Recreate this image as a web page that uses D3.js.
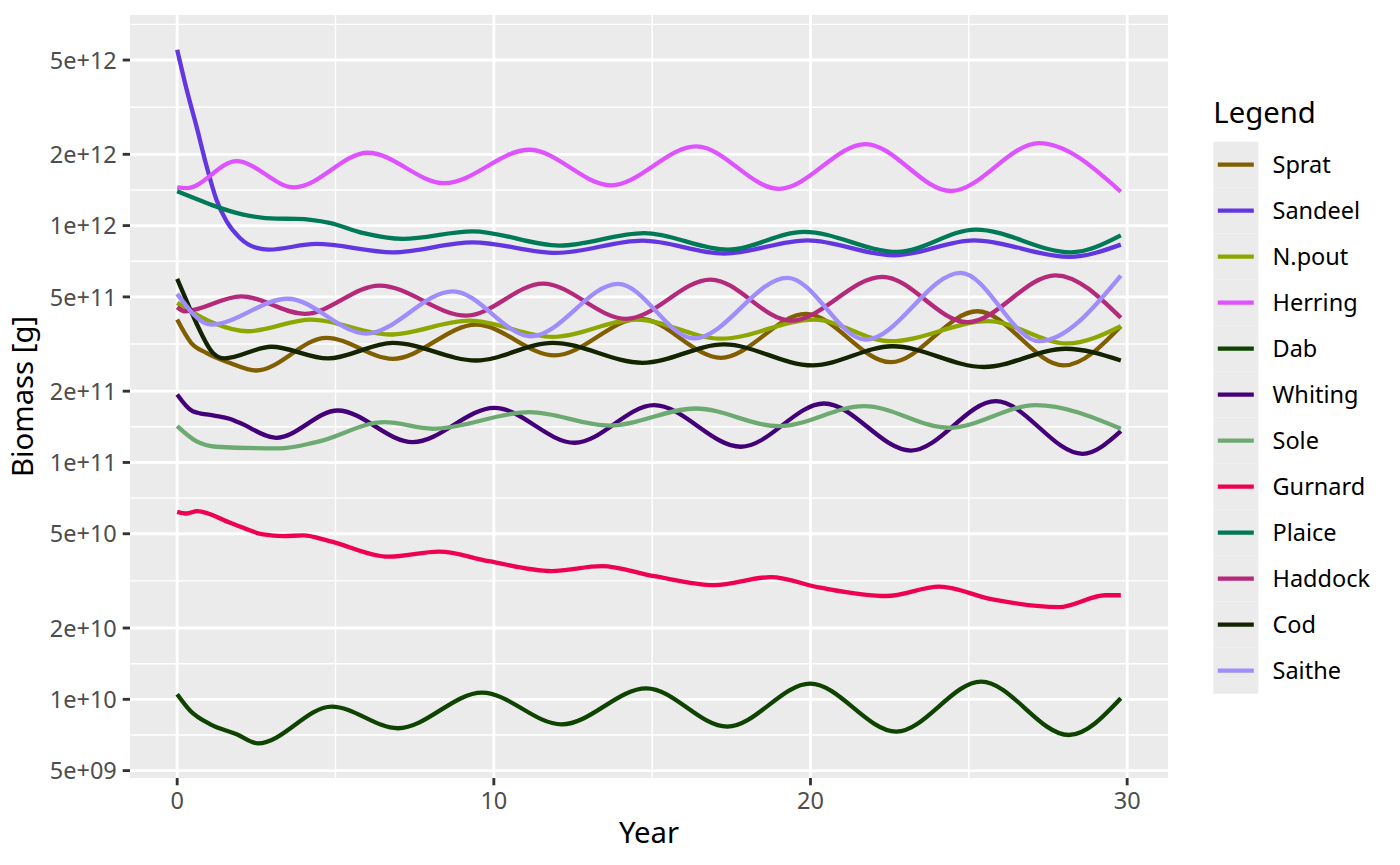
<!DOCTYPE html>
<html>
<head>
<meta charset="utf-8">
<script src="https://cdn.jsdelivr.net/npm/d3@7"></script>
<style>
  html, body { margin: 0; padding: 0; background: #ffffff; }
  svg { display: block; font-family: "Noto Sans", "Open Sans", sans-serif; }
</style>
</head>
<body>
<svg id="chart" width="1400" height="865"></svg>
<script>
// ---- data ----
const speciesNames = ["Sprat","Sandeel","N.pout","Herring","Dab","Whiting","Sole","Gurnard","Plaice","Haddock","Cod","Saithe"];
const speciesColours = ["#815f00","#6237e2","#8da600","#de53ff","#0e4300","#430079","#6caa72","#ee0053","#007957","#b42979","#142300","#a08dfb"];

const spratYear    = [0, 0.44, 0.92, 1.65, 2.49, 4.71, 6.81, 9.44, 11.92, 14.6, 17.17, 19.85, 22.53, 25.27, 28.0, 29.8];
const spratBiomass = [4.01e11, 3.20e11, 2.90e11, 2.635e11, 2.445e11, 3.36e11, 2.74e11, 3.82e11, 2.83e11, 4.05e11, 2.765e11, 4.24e11, 2.65e11, 4.35e11, 2.57e11, 3.76e11];

const sandeelYear    = [0, 0.30, 0.61, 0.93, 1.24, 1.56, 1.98, 2.51, 2.9, 4.39, 6.81, 9.33, 11.97, 14.7, 17.27, 19.9, 22.64, 25.16, 28.17, 29.8];
const sandeelBiomass = [5.53e12, 3.75e12, 2.624e12, 1.779e12, 1.287e12, 1.043e12, 8.87e11, 8.05e11, 7.92e11, 8.37e11, 7.715e11, 8.50e11, 7.67e11, 8.64e11, 7.62e11, 8.67e11, 7.49e11, 8.67e11, 7.38e11, 8.31e11];

const npoutYear    = [0, 1.13, 2.23, 4.23, 6.71, 9.23, 11.86, 14.5, 17.17, 20.11, 22.53, 25.6, 28.11, 29.8];
const npoutBiomass = [4.72e11, 3.89e11, 3.58e11, 4.01e11, 3.47e11, 3.97e11, 3.39e11, 4.01e11, 3.33e11, 4.01e11, 3.25e11, 3.95e11, 3.18e11, 3.76e11];

const herringYear    = [0, 0.3, 1.87, 3.70, 6.02, 8.44, 11.12, 13.70, 16.39, 19.0, 21.74, 24.43, 27.22, 29.8];
const herringBiomass = [1.45e12, 1.44e12, 1.87e12, 1.45e12, 2.03e12, 1.51e12, 2.09e12, 1.48e12, 2.16e12, 1.43e12, 2.21e12, 1.40e12, 2.23e12, 1.39e12];

const dabYear    = [0, 0.42, 1.05, 1.88, 2.55, 4.88, 6.97, 9.63, 12.14, 14.82, 17.37, 19.99, 22.71, 25.39, 28.16, 29.8];
const dabBiomass = [1.05e10, 8.92e9, 7.84e9, 7.12e9, 6.52e9, 9.32e9, 7.55e9, 1.067e10, 7.84e9, 1.113e10, 7.67e9, 1.165e10, 7.31e9, 1.188e10, 7.07e9, 1.01e10];

const whitingYear    = [0, 0.49, 1.13, 1.65, 1.97, 3.13, 5.07, 7.44, 10.02, 12.55, 15.06, 17.8, 20.43, 23.17, 25.85, 28.59, 29.8];
const whitingBiomass = [1.936e11, 1.646e11, 1.579e11, 1.529e11, 1.471e11, 1.271e11, 1.657e11, 1.218e11, 1.701e11, 1.211e11, 1.745e11, 1.165e11, 1.774e11, 1.123e11, 1.814e11, 1.088e11, 1.356e11];

const soleYear    = [0, 0.6, 1.23, 3.23, 4.39, 6.55, 8.07, 11.13, 13.65, 16.38, 19.0, 21.69, 24.38, 27.11, 29.8];
const soleBiomass = [1.423e11, 1.230e11, 1.165e11, 1.146e11, 1.218e11, 1.479e11, 1.388e11, 1.630e11, 1.432e11, 1.690e11, 1.423e11, 1.729e11, 1.401e11, 1.745e11, 1.388e11];

const gurnardYear    = [0, 0.3, 0.63, 1.67, 2.72, 3.35, 3.98, 4.81, 6.7, 8.27, 9.84, 11.83, 13.4, 15.07, 16.96, 18.74, 20.31, 22.4, 24.07, 25.75, 27.84, 29.31, 29.8];
const gurnardBiomass = [6.19e10, 6.09e10, 6.23e10, 5.57e10, 4.97e10, 4.89e10, 4.92e10, 4.655e10, 4.00e10, 4.20e10, 3.83e10, 3.48e10, 3.65e10, 3.31e10, 3.035e10, 3.28e10, 2.96e10, 2.73e10, 2.99e10, 2.64e10, 2.45e10, 2.75e10, 2.75e10];

const plaiceYear    = [0, 0.61, 1.35, 2.09, 3.14, 3.77, 4.81, 5.85, 7.13, 9.33, 12.07, 14.75, 17.38, 19.8, 22.74, 25.22, 28.22, 29.8];
const plaiceBiomass = [1.396e12, 1.296e12, 1.188e12, 1.113e12, 1.070e12, 1.068e12, 1.027e12, 9.316e11, 8.79e11, 9.46e11, 8.235e11, 9.30e11, 7.92e11, 9.41e11, 7.745e11, 9.62e11, 7.715e11, 9.10e11];

const haddockYear    = [0, 0.23, 2.02, 4.02, 6.39, 9.13, 11.55, 14.18, 16.85, 19.38, 22.27, 24.95, 27.74, 29.8];
const haddockBiomass = [4.52e11, 4.35e11, 5.03e11, 4.24e11, 5.58e11, 4.17e11, 5.69e11, 4.04e11, 5.92e11, 3.97e11, 6.075e11, 3.91e11, 6.17e11, 4.08e11];

const codYear    = [0, 0.28, 0.6, 1.13, 1.49, 2.97, 4.76, 6.81, 9.44, 11.86, 14.7, 17.27, 20.06, 22.59, 25.48, 28.06, 29.8];
const codBiomass = [5.96e11, 4.87e11, 3.89e11, 2.90e11, 2.75e11, 3.08e11, 2.75e11, 3.20e11, 2.695e11, 3.20e11, 2.635e11, 3.15e11, 2.57e11, 3.095e11, 2.53e11, 3.02e11, 2.695e11];

const saitheYear    = [0, 1.07, 3.49, 5.97, 8.71, 11.18, 13.92, 16.32, 19.27, 21.74, 24.74, 27.22, 29.8];
const saitheBiomass = [5.15e11, 3.82e11, 4.91e11, 3.50e11, 5.28e11, 3.41e11, 5.675e11, 3.34e11, 6.02e11, 3.30e11, 6.32e11, 3.25e11, 6.15e11];

const yTicks = [5e9, 1e10, 2e10, 5e10, 1e11, 2e11, 5e11, 1e12, 2e12, 5e12];
const yTickLabels = ["5e+09","1e+10","2e+10","5e+10","1e+11","2e+11","5e+11","1e+12","2e+12","5e+12"];
const xTicks = [0, 10, 20, 30];
const xTickLabels = ["0","10","20","30"];
const xMinorTicks = [5, 15, 25];

const seriesYears = [spratYear, sandeelYear, npoutYear, herringYear, dabYear, whitingYear, soleYear, gurnardYear, plaiceYear, haddockYear, codYear, saitheYear];
const seriesBiomass = [spratBiomass, sandeelBiomass, npoutBiomass, herringBiomass, dabBiomass, whitingBiomass, soleBiomass, gurnardBiomass, plaiceBiomass, haddockBiomass, codBiomass, saitheBiomass];

const series = speciesNames.map((name, i) => ({
  name, colour: speciesColours[i],
  values: seriesYears[i].map((t, j) => ({ t, b: seriesBiomass[i][j] }))
}));

// ---- layout ----
const panel = { left: 130, right: 1168, top: 15, bottom: 778 };
const svg = d3.select("#chart");

const allT = series.flatMap(s => s.values.map(v => v.t));
const allB = series.flatMap(s => s.values.map(v => v.b));
const [t0, t1] = d3.extent(allT);
const tPad = (t1 - t0) * 0.05;
const [lb0, lb1] = d3.extent(allB).map(Math.log10);
const lPad = (lb1 - lb0) * 0.05;

const x = d3.scaleLinear().domain([t0 - tPad, t1 + tPad]).range([panel.left, panel.right]);
const y = d3.scaleLog().domain([Math.pow(10, lb0 - lPad), Math.pow(10, lb1 + lPad)]).range([panel.bottom, panel.top]);

// minor y breaks (midpoints in log space, ggplot style)
const yMinor = [];
for (let i = 0; i < yTicks.length - 1; i++) yMinor.push(Math.sqrt(yTicks[i] * yTicks[i + 1]));
const step = yTicks[1] / yTicks[0];
yMinor.push(yTicks[yTicks.length - 1] * Math.sqrt(step));
yMinor.unshift(yTicks[0] / Math.sqrt(step));
const yMin = y.domain()[0], yMax = y.domain()[1];

svg.append("rect").attr("width", 1400).attr("height", 865).attr("fill", "#ffffff");
svg.append("rect")
  .attr("x", panel.left).attr("y", panel.top)
  .attr("width", panel.right - panel.left).attr("height", panel.bottom - panel.top)
  .attr("fill", "#ebebeb");

const grid = svg.append("g");
grid.selectAll(".ymin").data(yMinor.filter(v => v > yMin && v < yMax)).enter().append("line")
  .attr("x1", panel.left).attr("x2", panel.right)
  .attr("y1", d => y(d)).attr("y2", d => y(d))
  .attr("stroke", "#ffffff").attr("stroke-width", 1.42);
grid.selectAll(".xmin").data(xMinorTicks).enter().append("line")
  .attr("y1", panel.top).attr("y2", panel.bottom)
  .attr("x1", d => x(d)).attr("x2", d => x(d))
  .attr("stroke", "#ffffff").attr("stroke-width", 1.42);
grid.selectAll(".ymaj").data(yTicks).enter().append("line")
  .attr("x1", panel.left).attr("x2", panel.right)
  .attr("y1", d => y(d)).attr("y2", d => y(d))
  .attr("stroke", "#ffffff").attr("stroke-width", 2.85);
grid.selectAll(".xmaj").data(xTicks).enter().append("line")
  .attr("y1", panel.top).attr("y2", panel.bottom)
  .attr("x1", d => x(d)).attr("x2", d => x(d))
  .attr("stroke", "#ffffff").attr("stroke-width", 2.85);

// ---- lines ----
const line = d3.line().x(d => x(d.t)).y(d => y(d.b)).curve(d3.curveMonotoneX);
svg.append("g").selectAll("path").data(series).enter().append("path")
  .attr("d", d => line(d.values))
  .attr("fill", "none")
  .attr("stroke", d => d.colour)
  .attr("stroke-width", 4.3)
  .attr("stroke-linejoin", "round")
  .attr("stroke-linecap", "butt");

// ---- axes ----
const axes = svg.append("g");
axes.selectAll(".yt").data(yTicks).enter().append("line")
  .attr("x1", panel.left - 7.3).attr("x2", panel.left)
  .attr("y1", d => y(d)).attr("y2", d => y(d))
  .attr("stroke", "#333333").attr("stroke-width", 2.85);
axes.selectAll(".yl").data(yTicks).enter().append("text")
  .attr("x", panel.left - 7.3 - 5.9).attr("y", d => y(d) + 8.6)
  .attr("text-anchor", "end").attr("font-size", 23.5).attr("fill", "#4d4d4d")
  .text((d, i) => yTickLabels[i]);
axes.selectAll(".xt").data(xTicks).enter().append("line")
  .attr("y1", panel.bottom).attr("y2", panel.bottom + 7.3)
  .attr("x1", d => x(d)).attr("x2", d => x(d))
  .attr("stroke", "#333333").attr("stroke-width", 2.85);
axes.selectAll(".xl").data(xTicks).enter().append("text")
  .attr("x", d => x(d)).attr("y", 809.3)
  .attr("text-anchor", "middle").attr("font-size", 23.5).attr("fill", "#4d4d4d")
  .text((d, i) => xTickLabels[i]);

svg.append("text")
  .attr("x", (panel.left + panel.right) / 2).attr("y", 843.3)
  .attr("text-anchor", "middle").attr("font-size", 29.3).attr("fill", "#000000")
  .text("Year");
svg.append("text")
  .attr("transform", `translate(33.3,${(panel.top + panel.bottom) / 2}) rotate(-90)`)
  .attr("text-anchor", "middle").attr("font-size", 29.3).attr("fill", "#000000")
  .text("Biomass [g]");

// ---- legend ----
const legend = svg.append("g");
legend.append("text")
  .attr("x", 1213.3).attr("y", 123.3)
  .attr("font-size", 29.3).attr("fill", "#000000")
  .text("Legend");
const keyTop = 141.7, keyH = 46, keyX = 1213.3, keyW = 45;
const items = legend.selectAll(".item").data(series).enter().append("g")
  .attr("transform", (d, i) => `translate(0,${keyTop + i * keyH})`);
items.append("rect")
  .attr("x", keyX).attr("y", 0).attr("width", keyW).attr("height", keyH)
  .attr("fill", "#ebebeb");
items.append("line")
  .attr("x1", keyX + 4.5).attr("x2", keyX + keyW - 4.5)
  .attr("y1", keyH / 2).attr("y2", keyH / 2)
  .attr("stroke", d => d.colour).attr("stroke-width", 4.3);
items.append("text")
  .attr("x", 1272.5).attr("y", keyH / 2 + 8.8)
  .attr("font-size", 23.5).attr("fill", "#000000")
  .text(d => d.name);
</script>
</body>
</html>
